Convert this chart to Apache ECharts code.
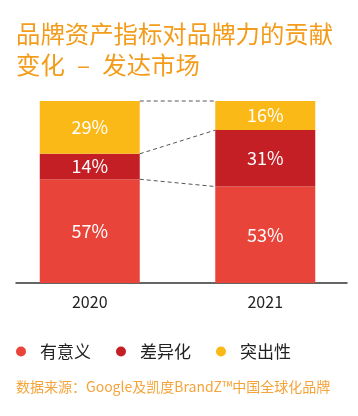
<!DOCTYPE html>
<html>
<head>
<meta charset="utf-8">
<script src="https://cdn.jsdelivr.net/npm/echarts@6/dist/echarts.min.js"></script>
<style>
html,body{margin:0;padding:0;background:#fff;}
#chart{width:358px;height:416px;}
</style>
</head>
<body>
<div id="chart"></div>
<script>
var years = ['2020', '2021'];
var meaningful = [57, 53];
var different = [14, 31];
var salient = [29, 16];
var seriesNames = ['有意义', '差异化', '突出性'];
var titleText = '品牌资产指标对品牌力的贡献\n变化\u2002–\u2002发达市场';
var sourceText = '数据来源：Google及凯度BrandZ™中国全球化品牌';

var colors = ['#E8443A', '#C41F24', '#FBB917'];
var barW = 100;
var FONT = '"Noto Sans CJK SC", "Noto Sans", sans-serif';

// cumulative boundaries for connector lines
var b1 = [meaningful[0], meaningful[1]];
var b2 = [meaningful[0] + different[0], meaningful[1] + different[1]];
var b3 = [b2[0] + salient[0], b2[1] + salient[1]];
var connectors = [[b1[0], b1[1]], [b2[0], b2[1]], [b3[0], b3[1]]];

var chart = echarts.init(document.getElementById('chart'), null, {renderer: 'canvas'});

function barSeries(name, data, color) {
  return {
    name: name,
    type: 'bar',
    stack: 'total',
    data: data,
    barWidth: barW,
    itemStyle: {color: color},
    label: {
      show: true,
      position: 'inside',
      color: '#fff',
      fontSize: 18,
      fontFamily: FONT,
      formatter: '{c}%'
    },
    emphasis: {disabled: true}
  };
}

chart.setOption({
  animation: false,
  color: colors,
  title: [{
    text: titleText,
    left: 16,
    top: 18,
    padding: 0,
    textStyle: {color: '#F39C1C', fontSize: 24.4, fontWeight: 'normal', lineHeight: 31, fontFamily: FONT}
  }, {
    text: sourceText,
    left: 16,
    top: 380,
    padding: 0,
    textStyle: {color: '#F5A43A', fontSize: 14, fontWeight: 'normal', fontFamily: FONT}
  }],
  legend: {
    data: seriesNames,
    left: 16,
    top: 343,
    padding: 0,
    icon: 'circle',
    itemWidth: 10,
    itemHeight: 10,
    itemGap: 25,
    textStyle: {color: '#222', fontSize: 17, fontFamily: FONT, padding: [0, 0, 0, 9]}
  },
  grid: [
    {left: 2, right: 5, top: 101, bottom: 133},
    {left: 16, right: 11, top: 101, bottom: 133}
  ],
  xAxis: [{
    type: 'category',
    data: years,
    gridIndex: 0,
    axisLine: {show: false},
    axisTick: {show: false},
    axisLabel: {color: '#222', fontSize: 16, margin: 11, fontFamily: FONT}
  }, {
    type: 'value',
    gridIndex: 1,
    min: 0, max: 1,
    axisLine: {show: true, onZero: false, lineStyle: {color: '#333', width: 1.5}},
    axisTick: {show: false},
    axisLabel: {show: false},
    splitLine: {show: false}
  }],
  yAxis: [{
    type: 'value',
    gridIndex: 0,
    min: 0, max: 100,
    show: false
  }, {
    type: 'value',
    gridIndex: 1,
    min: 0, max: 1,
    show: false
  }],
  series: [
    barSeries(seriesNames[0], meaningful, colors[0]),
    barSeries(seriesNames[1], different, colors[1]),
    barSeries(seriesNames[2], salient, colors[2]),
    {
      type: 'custom',
      xAxisIndex: 0,
      yAxisIndex: 0,
      silent: true,
      data: connectors,
      renderItem: function (params, api) {
        var p0 = api.coord([0, api.value(0)]);
        var p1 = api.coord([1, api.value(1)]);
        return {
          type: 'line',
          shape: {x1: p0[0] + barW / 2, y1: p0[1], x2: p1[0] - barW / 2, y2: p1[1]},
          style: {stroke: '#555', lineWidth: 1, lineDash: [4, 3]}
        };
      },
      encode: {x: -1, y: [0, 1]},
      z: 5
    }
  ]
});
</script>
</body>
</html>
